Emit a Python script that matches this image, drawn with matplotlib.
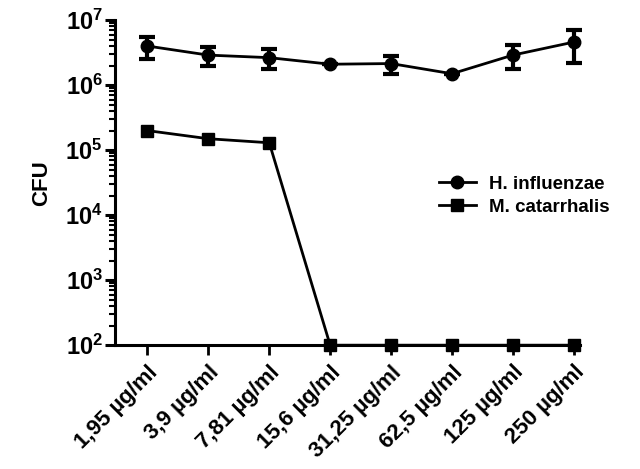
import numpy as np
import matplotlib
matplotlib.use("Agg")
import matplotlib.pyplot as plt
from matplotlib.lines import Line2D
from matplotlib.ticker import LogLocator, NullFormatter

plt.rcParams['font.family'] = ['Liberation Sans', 'DejaVu Sans']
plt.rcParams['font.weight'] = 'bold'
plt.rcParams['axes.labelweight'] = 'bold'
plt.rcParams['mathtext.fontset'] = 'custom'
plt.rcParams['mathtext.rm'] = 'Liberation Sans:bold'
plt.rcParams['mathtext.default'] = 'rm'

# data
labels = ['1,95 µg/ml', '3,9 µg/ml', '7,81 µg/ml', '15,6 µg/ml',
          '31,25 µg/ml', '62,5 µg/ml', '125 µg/ml', '250 µg/ml']
hi_mean = [4.0e6, 2.9e6, 2.65e6, 2.1e6, 2.15e6, 1.5e6, 2.9e6, 4.6e6]
hi_low = [2.5e6, 1.95e6, 1.75e6, 2.1e6, 1.48e6, 1.5e6, 1.77e6, 2.2e6]
hi_high = [5.6e6, 3.8e6, 3.55e6, 2.1e6, 2.85e6, 1.5e6, 4.1e6, 7.0e6]
mc_mean = [2.0e5, 1.5e5, 1.3e5, 1e2, 1e2, 1e2, 1e2, 1e2]

x = np.arange(len(labels))
hi_mean = np.array(hi_mean)
yerr = [hi_mean - np.array(hi_low), np.array(hi_high) - hi_mean]

fig = plt.figure(figsize=(6.4, 4.69), dpi=100)
ax = fig.add_axes([0.18, 0.264, 0.726, 0.693])

ax.errorbar(x, hi_mean, yerr=yerr, color='black', lw=2, marker='o', ms=9,
            capsize=6, capthick=3, elinewidth=3, clip_on=False)
ax.plot(x, mc_mean, color='black', lw=2, marker='s', ms=9,
        clip_on=False, zorder=5)

ax.set_yscale('log')
ax.set_ylim(1e2, 1e7)
ax.set_xlim(-0.53, 7.1)
ax.yaxis.set_major_locator(LogLocator(base=10, numticks=10))
ax.yaxis.set_minor_locator(LogLocator(base=10, subs=np.arange(2, 10), numticks=20))
ax.yaxis.set_minor_formatter(NullFormatter())

ax.set_xticks(x)
ax.set_xticklabels(labels, rotation=45, ha='right', rotation_mode='anchor', fontsize=16)

for s in ['top', 'right']:
    ax.spines[s].set_visible(False)
for s in ['left', 'bottom']:
    ax.spines[s].set_linewidth(2.2)

ax.tick_params(axis='y', which='major', length=7, width=2.2, labelsize=17, pad=2)
ax.tick_params(axis='y', which='minor', length=4, width=1.5)
ax.tick_params(axis='x', which='major', length=7, width=2, pad=5)

ax.set_ylabel('CFU', fontsize=16, labelpad=9)

handles = [Line2D([], [], color='black', lw=2, marker='o', ms=9),
           Line2D([], [], color='black', lw=2, marker='s', ms=9)]
ax.legend(handles, ['H. influenzae', 'M. catarrhalis'], loc='center left',
          bbox_to_anchor=(0.66, 0.46), frameon=False, fontsize=13.5,
          handlelength=2.0, handletextpad=0.7, labelspacing=0.3)

fig.savefig('out.png', dpi=100)
